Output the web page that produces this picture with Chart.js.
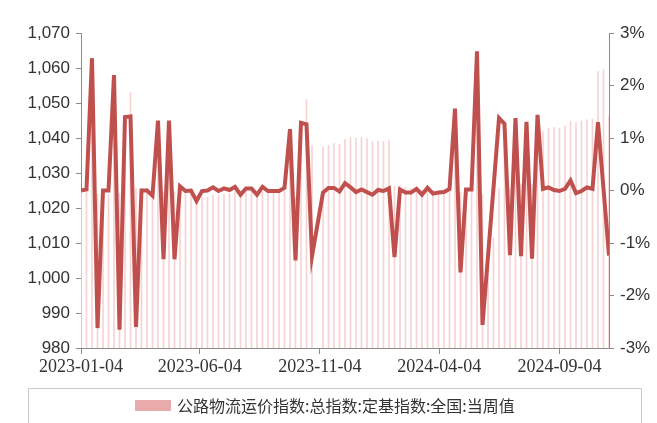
<!DOCTYPE html>
<html>
<head>
<meta charset="utf-8">
<script src="https://cdn.jsdelivr.net/npm/chart.js@4.4.1/dist/chart.umd.min.js"></script>
<style>
  html, body { margin: 0; padding: 0; background: #fff; }
  #wrap { width: 657px; height: 423px; }
</style>
</head>
<body>
<div id="wrap"><canvas id="chart" width="657" height="423"></canvas></div>
<script>
// weekly samples, counted in days from 2023-01-04
const weekCount = 97;
const weekDays = [];
for (let i = 0; i < weekCount; i++) weekDays.push(i * 7);

const tickDays = [0, 151, 304, 456, 609];
const tickLabels = ['2023-01-04', '2023-06-04', '2023-11-04', '2024-04-04', '2024-09-04'];

const barLabel = '公路物流运价指数:总指数:定基指数:全国:当周值';
const lineLabel = '环比';

// 定基指数 (left axis)
const indexValues = [
  1025.1, 1025.3, 1051.1, 1024.0, 1024.0, 1024.0, 1046.5, 1024.2, 1038.4, 1053.0,
  1025.6, 1025.6, 1025.6, 1024.6, 1038.2, 1024.6, 1038.2, 1024.6, 1025.4, 1025.3,
  1025.3, 1023.2, 1023.1, 1023.1, 1023.7, 1023.6, 1024.0, 1024.1, 1024.8, 1024.0,
  1024.4, 1024.8, 1024.0, 1024.7, 1024.6, 1024.5, 1024.4, 1024.9, 1036.9, 1023.1,
  1036.3, 1051.0, 1037.9, null, 1037.4, 1037.9, 1038.4, 1038.2, 1039.6, 1040.2,
  1039.9, 1040.1, 1039.8, 1039.0, 1039.1, 1039.0, 1039.4, 1026.2, 1026.4, 1026.0,
  1025.6, 1025.9, 1025.1, 1025.6, 1025.0, 1024.6, 1024.3, 1024.6, 1040.6, 1024.4,
  1024.6, 1024.8, 1050.7, 1023.8, 1011.0, 1011.5, 1025.5, 1038.5, 1025.7, 1039.8,
  1026.8, 1040.2, 1026.7, 1041.5, 1041.8, 1042.8, 1043.0, 1042.8, 1043.4, 1044.8,
  1044.4, 1044.9, 1045.2, 1045.4, 1059.0, 1059.4, 1046.3
];

// week-on-week change, % (right axis)
const changeValues = [
  0.00, 0.02, 2.52, -2.62, 0.00, 0.00, 2.20, -2.65, 1.40, 1.41,
  -2.60, 0.00, 0.00, -0.10, 1.33, -1.31, 1.33, -1.31, 0.08, -0.01,
  0.00, -0.20, -0.01, 0.00, 0.06, -0.01, 0.04, 0.01, 0.07, -0.08,
  0.04, 0.04, -0.08, 0.07, -0.01, -0.01, -0.01, 0.05, 1.17, -1.33,
  1.29, 1.26, -1.25, null, -0.04, 0.05, 0.05, -0.02, 0.14, 0.06,
  -0.03, 0.02, -0.03, -0.08, 0.01, -0.01, 0.04, -1.27, 0.02, -0.04,
  -0.04, 0.03, -0.08, 0.05, -0.06, -0.04, -0.03, 0.03, 1.56, -1.56,
  0.02, 0.02, 2.65, -2.56, -1.25, 0.05, 1.38, 1.27, -1.23, 1.38,
  -1.25, 1.31, -1.30, 1.44, 0.03, 0.06, 0.01, -0.01, 0.03, 0.19,
  -0.05, -0.01, 0.06, 0.03, 1.30, 0.03, -1.24
];

const barColor = '#f6d3d3';
const swatchColor = '#e8aaaa';
const lineColor = '#c0504d';
const axisColor = '#8c8c8c';

const legendBox = {
  id: 'legendBox',
  afterDraw(chart) {
    const ctx = chart.ctx;
    ctx.save();
    ctx.strokeStyle = '#c8c8c8';
    ctx.lineWidth = 1;
    ctx.beginPath();
    ctx.moveTo(28.5, 430);
    ctx.lineTo(28.5, 388.5);
    ctx.lineTo(641.5, 388.5);
    ctx.lineTo(641.5, 430);
    ctx.stroke();
    ctx.fillStyle = swatchColor;
    ctx.fillRect(135, 400, 36, 11);
    ctx.fillStyle = '#333';
    ctx.font = '16px "Noto Sans CJK SC"';
    ctx.textBaseline = 'middle';
    ctx.fillText(chart.data.datasets[1].label, 177, 406);
    ctx.restore();
  }
};

new Chart(document.getElementById('chart'), {
  data: {
    datasets: [
      {
        type: 'line',
        label: lineLabel,
        data: weekDays.map((d, i) => ({ x: d, y: changeValues[i] })),
        yAxisID: 'y1',
        borderColor: lineColor,
        backgroundColor: lineColor,
        borderWidth: 4,
        pointRadius: 0,
        tension: 0,
        spanGaps: true,
        order: 0
      },
      {
        type: 'bar',
        label: barLabel,
        data: weekDays.map((d, i) => ({ x: d, y: indexValues[i] })),
        yAxisID: 'y',
        backgroundColor: barColor,
        barThickness: 1,
        order: 1
      }
    ]
  },
  options: {
    responsive: false,
    animation: false,
    devicePixelRatio: 1,
    layout: { padding: { top: 33, left: 0, right: 0, bottom: 35 } },
    plugins: {
      legend: { display: false },
      tooltip: { enabled: false }
    },
    scales: {
      x: {
        type: 'linear',
        offset: false,
        min: 0,
        max: weekDays[weekDays.length - 1],
        afterBuildTicks: (scale) => { scale.ticks = tickDays.map(v => ({ value: v })); },
        afterFit: (scale) => { scale.height = 40; },
        ticks: {
          autoSkip: false,
          maxRotation: 0,
          padding: 2,
          color: '#333',
          font: { family: '"Liberation Serif", "Times New Roman", serif', size: 18 },
          callback: (v) => tickLabels[tickDays.indexOf(v)]
        },
        grid: { offset: false, drawOnChartArea: false, drawTicks: true, tickLength: 6, color: axisColor },
        border: { color: axisColor }
      },
      y: {
        position: 'left',
        min: 980,
        max: 1070,
        afterFit: (scale) => { scale.width = 81; },
        ticks: {
          stepSize: 10,
          padding: 6,
          color: '#333',
          font: { family: '"Liberation Sans", Arial, sans-serif', size: 17 },
          callback: (v) => v.toLocaleString('en-US')
        },
        grid: { drawOnChartArea: false, drawTicks: true, tickLength: 5, color: axisColor },
        border: { color: axisColor }
      },
      y1: {
        position: 'right',
        min: -3,
        max: 3,
        afterFit: (scale) => { scale.width = 48; },
        ticks: {
          stepSize: 1,
          padding: 6,
          color: '#333',
          font: { family: '"Liberation Sans", Arial, sans-serif', size: 17 },
          callback: (v) => v + '%'
        },
        grid: { drawOnChartArea: false, drawTicks: true, tickLength: 5, color: axisColor },
        border: { color: axisColor }
      }
    }
  },
  plugins: [legendBox]
});
</script>
</body>
</html>
